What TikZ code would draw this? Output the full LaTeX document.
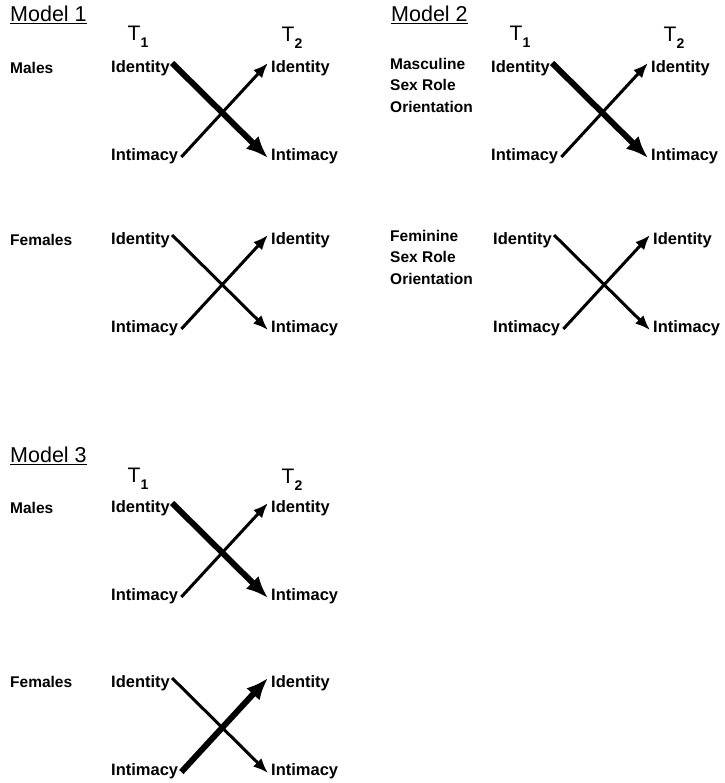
\documentclass[tikz,border=0pt]{standalone}
\usepackage{fontspec}
\setmainfont{Liberation Sans}
\usetikzlibrary{arrows.meta}

\tikzset{
  lbl/.style={font=\bfseries\fontsize{16.5}{19}\selectfont, inner sep=0pt, anchor=west},
  grp/.style={font=\bfseries\fontsize{15.5}{21.5}\selectfont, inner sep=0pt, anchor=west, align=left},
  title/.style={font=\fontsize{21.5}{24}\selectfont, inner sep=0pt, anchor=west},
  tlab/.style={font=\fontsize{21}{22}\selectfont, inner sep=0pt},
  weak/.style={line width=3pt, -{Latex[length=15pt,width=12pt]}},
  strong/.style={line width=6pt, -{Latex[length=22pt,width=18pt]}},
}

% one cross-lagged pair: T1 labels at x=#2, T2 labels 160 further right
% #4 = style of Identity(T1) -> Intimacy(T2), #5 = style of Intimacy(T1) -> Identity(T2)
\newcommand\crosspair[5]{%
  \node[lbl] (#1a) at (#2,#3) {Identity};
  \node[lbl] (#1b) at (#2,#3+88) {Intimacy};
  \node[lbl] (#1c) at (#2+160,#3) {Identity};
  \node[lbl] (#1d) at (#2+160,#3+88) {Intimacy};
  \draw[#4] ([shift={(2,-5)}]#1a.east) -- ([shift={(-3,2)}]#1d.west);
  \draw[#5] ([shift={(3,1)}]#1b.east) -- ([shift={(-3,-5)}]#1c.west);
}
\newcommand\timelabel[3]{%
  \node[tlab] (#1) at (#2) {T\raisebox{-7pt}{\bfseries\fontsize{14}{14}\selectfont #3}};
}

\begin{document}
\begin{tikzpicture}[x=1pt, y=-1pt]
  \useasboundingbox (0,0) rectangle (724,783);

  % ---- Model 1 ----
  \node[title] (m1) at (10,15) {\underline{Model\ 1}};
  \timelabel{m1t1}{138,37}{1}
  \timelabel{m1t2}{292,38}{2}
  \node[grp] (m1g1) at (10,68) {Males};
  \crosspair{m1m}{111}{68}{strong}{weak}
  \node[grp] (m1g2) at (10,240) {Females};
  \crosspair{m1f}{111}{240}{weak}{weak}

  % ---- Model 2 ----
  \node[title] (m2) at (391,15) {\underline{Model\ 2}};
  \timelabel{m2t1}{520,37}{1}
  \timelabel{m2t2}{674,38}{2}
  \node[grp, anchor=north west] (m2g1) at (390,58) {Masculine\\Sex Role\\Orientation};
  \crosspair{m2m}{491}{68}{strong}{weak}
  \node[grp, anchor=north west] (m2g2) at (390,230) {Feminine\\Sex Role\\Orientation};
  \crosspair{m2f}{493}{240}{weak}{weak}

  % ---- Model 3 ----
  \node[title] (m3) at (10,456) {\underline{Model\ 3}};
  \timelabel{m3t1}{138,479}{1}
  \timelabel{m3t2}{292,480}{2}
  \node[grp] (m3g1) at (10,508) {Males};
  \crosspair{m3m}{111}{508}{strong}{weak}
  \node[grp] (m3g2) at (10,682) {Females};
  \crosspair{m3f}{111}{683}{weak}{strong}
\end{tikzpicture}
\end{document}
